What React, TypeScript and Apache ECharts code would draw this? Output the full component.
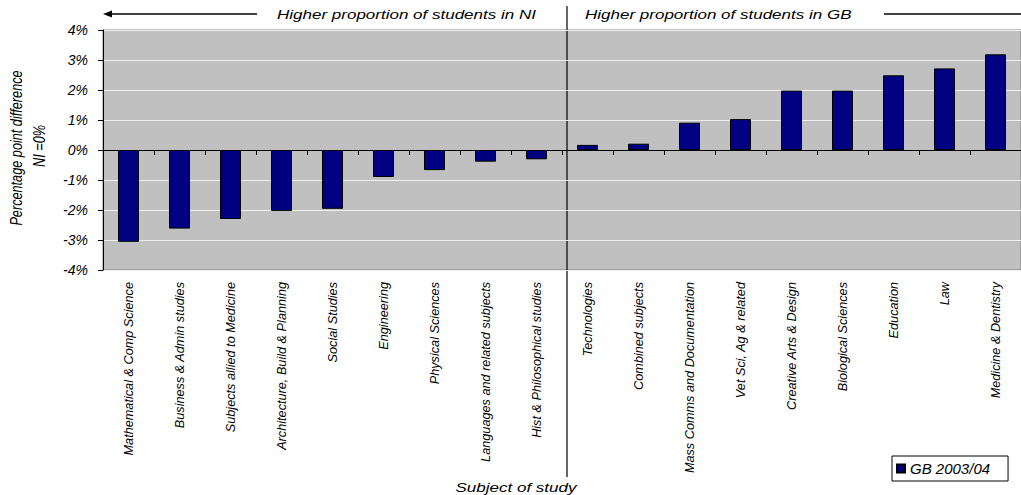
import React, { useEffect, useRef } from "react";
import * as echarts from "echarts";

const categories: string[] = [
  "Mathematical & Comp Science",
  "Business & Admin studies",
  "Subjects allied to Medicine",
  "Architecture, Build & Planning",
  "Social Studies",
  "Engineering",
  "Physical Sciences",
  "Languages and related subjects",
  "Hist & Philosophical studies",
  "Technologies",
  "Combined subjects",
  "Mass Comms and Documentation",
  "Vet Sci, Ag & related",
  "Creative Arts & Design",
  "Biological Sciences",
  "Education",
  "Law",
  "Medicine & Dentistry",
];

const gbValues: number[] = [
  -3.06, -2.62, -2.3, -2.03, -1.96, -0.9, -0.67, -0.39, -0.31,
  0.17, 0.21, 0.91, 1.03, 1.98, 1.98, 2.49, 2.72, 3.19,
];

const seriesName = "GB 2003/04";
const leftNote = "Higher proportion of students in NI";
const rightNote = "Higher proportion of students in GB";
const xTitle = "Subject of study";
const yTitle1 = "Percentage point difference";
const yTitle2 = "NI =0%";

const FONT = '"Liberation Sans", Arial, sans-serif';
const italic = (size: number) => `italic ${size}px ${FONT}`;

export default function App() {
  const ref = useRef<HTMLDivElement>(null);

  useEffect(() => {
    if (!ref.current) return;
    const chart = echarts.init(ref.current, null, { renderer: "svg" });
    const option: any = {
      animation: false,
      textStyle: { fontFamily: FONT },
      grid: {
        left: 103,
        top: 30,
        width: 932,
        height: 240,
        show: true,
        backgroundColor: "#c0c0c0",
        borderColor: "#808080",
        borderWidth: 1,
      },
      legend: {
        data: [seriesName],
        left: 892,
        top: 456,
        padding: [5, 18, 5, 4],
        itemWidth: 8,
        itemHeight: 8,
        icon: "rect",
        borderColor: "#000",
        borderWidth: 1,
        backgroundColor: "#fff",
        textStyle: { fontStyle: "italic", fontSize: 15, color: "#000", fontFamily: FONT },
      },
      xAxis: [
        {
          type: "category",
          data: categories,
          position: "bottom",
          axisLine: { show: false, onZero: false },
          axisTick: { show: false },
          splitLine: { show: false },
          axisLabel: {
            interval: 0,
            rotate: 90,
            margin: 12,
            fontSize: 12.7,
            fontStyle: "italic",
            color: "#000",
            fontFamily: FONT,
          },
        },
        {
          type: "category",
          data: categories,
          position: "top",
          axisLine: { show: true, onZero: true, lineStyle: { color: "#000", width: 1 } },
          axisTick: { show: true, inside: true, interval: 0, length: 5, lineStyle: { color: "#000", width: 1 } },
          axisLabel: { show: false },
          splitLine: { show: false },
        },
      ],
      yAxis: {
        type: "value",
        min: -4,
        max: 4,
        interval: 1,
        axisLine: { show: true, lineStyle: { color: "#000", width: 1 } },
        axisTick: { show: true, length: 5, lineStyle: { color: "#000" } },
        splitLine: { show: true, lineStyle: { color: "#f0f0f0", width: 1 } },
        axisLabel: {
          formatter: (v: number) => `${v}%`,
          margin: 15,
          fontSize: 14,
          fontStyle: "italic",
          color: "#000",
          fontFamily: FONT,
        },
      },
      series: [
        {
          name: seriesName,
          type: "bar",
          xAxisIndex: 0,
          data: gbValues,
          barWidth: 21,
          itemStyle: { color: "#000080", borderColor: "#000", borderWidth: 1 },
        },
      ],
      graphic: [
        {
          type: "line",
          shape: { x1: 110, y1: 14, x2: 257, y2: 14 },
          style: { stroke: "#000", lineWidth: 1.5 },
        },
        {
          type: "polygon",
          shape: { points: [[103, 14], [112, 10.5], [112, 17.5]] },
          style: { fill: "#000" },
        },
        {
          type: "line",
          shape: { x1: 884, y1: 14, x2: 1021, y2: 14 },
          style: { stroke: "#000", lineWidth: 1.5 },
        },
        {
          type: "line",
          shape: { x1: 567, y1: 6, x2: 567, y2: 477 },
          style: { stroke: "#000", lineWidth: 1.2 },
        },
        {
          type: "text",
          x: 277,
          y: 14,
          scaleX: 1.34,
          style: { text: leftNote, font: italic(12.7), fill: "#000", textAlign: "left", textVerticalAlign: "middle" },
        },
        {
          type: "text",
          x: 585,
          y: 14,
          scaleX: 1.34,
          style: { text: rightNote, font: italic(12.7), fill: "#000", textAlign: "left", textVerticalAlign: "middle" },
        },
        {
          type: "text",
          x: 516,
          y: 487,
          scaleX: 1.34,
          style: { text: xTitle, font: italic(12.7), fill: "#000", textAlign: "center", textVerticalAlign: "middle" },
        },
        {
          type: "text",
          x: 16,
          y: 148,
          rotation: Math.PI / 2,
          scaleY: 1.3,
          style: { text: yTitle1, font: italic(12.7), fill: "#000", textAlign: "center", textVerticalAlign: "middle" },
        },
        {
          type: "text",
          x: 39,
          y: 146,
          rotation: Math.PI / 2,
          scaleY: 1.3,
          style: { text: yTitle2, font: italic(12.7), fill: "#000", textAlign: "center", textVerticalAlign: "middle" },
        },
      ],
    };
    chart.setOption(option);
    return () => chart.dispose();
  }, []);

  return (
    <div
      ref={ref}
      style={{ position: "absolute", left: 0, top: 0, width: 1021, height: 495, background: "#fff" }}
    />
  );
}
